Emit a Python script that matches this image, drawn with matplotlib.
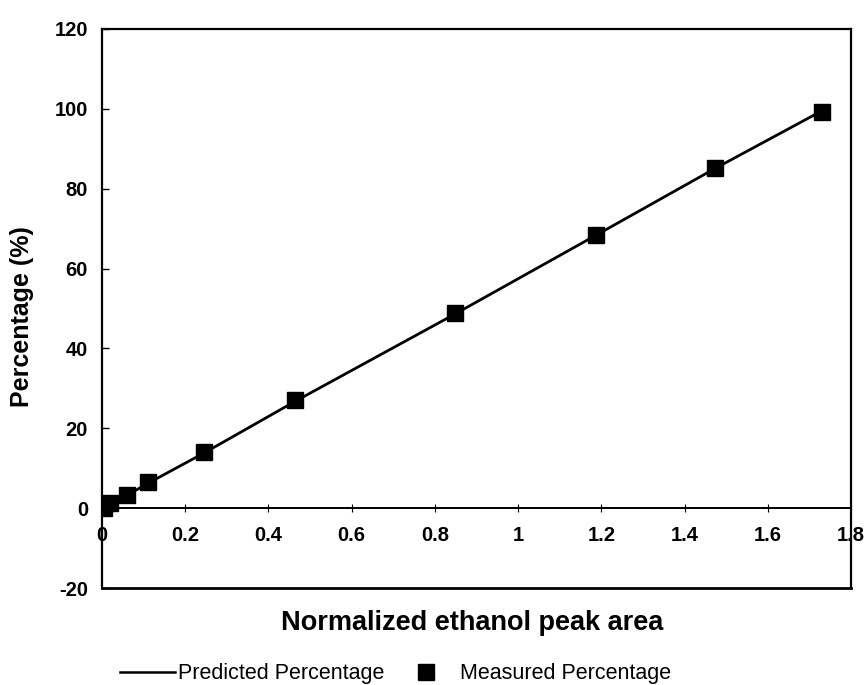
import matplotlib
matplotlib.use("Agg")
import matplotlib.pyplot as plt
from matplotlib.lines import Line2D

# data
area = [0.005, 0.02, 0.06, 0.11, 0.245, 0.465, 0.848, 1.188, 1.472, 1.73]
measured = [0.0, 1.2, 3.3, 6.5, 14.0, 27.0, 48.8, 68.5, 85.2, 99.3]
predicted = [0.2, 1.0, 3.2, 6.2, 13.8, 26.8, 48.6, 68.4, 85.0, 99.5]
xticks = [0, 0.2, 0.4, 0.6, 0.8, 1, 1.2, 1.4, 1.6, 1.8]
yticks = [-20, 0, 20, 40, 60, 80, 100, 120]

plt.rcParams.update({"font.family": ["Liberation Sans", "DejaVu Sans"],
                     "axes.unicode_minus": False})
W, H = 868, 685
fig = plt.figure(figsize=(W / 100, H / 100), dpi=100)
ax = fig.add_axes([102 / W, 1 - 588 / H, 749 / W, 559 / H])

ax.plot(area, predicted, color="black", lw=2.0, zorder=2)
ax.plot(area, measured, ls="none", marker="s", ms=11, color="black", zorder=3)

ax.set_xlim(0, 1.8); ax.set_ylim(-20, 120)
ax.set_xticks(xticks, [f"{t:g}" for t in xticks])
ax.set_yticks(yticks)
ax.spines["bottom"].set_position(("data", 0))
for s in ax.spines.values():
    s.set_linewidth(1.6)
ax.spines["bottom"].set_linewidth(1.4)
# frame bottom edge (the x spine sits at y=0)
ax.add_line(Line2D([0, 1], [0, 0], transform=ax.transAxes, color="black", lw=2.0, clip_on=False))

ax.tick_params(axis="y", direction="in", length=5, width=1, pad=10, labelsize=14.5)
ax.tick_params(axis="x", direction="inout", length=6, width=0.8, pad=10, labelsize=14.5)
for lab in ax.get_xticklabels() + ax.get_yticklabels():
    lab.set_fontweight("bold")

ax.set_ylabel("Percentage (%)", fontsize=18, fontweight="bold")
ax.yaxis.set_label_coords((34 - 102) / 749, (588 - 317) / 559)
fig.text(472 / W, 1 - 623 / H, "Normalized ethanol peak area", ha="center", va="center",
         fontsize=19.5, fontweight="bold")

leg_kw = dict(loc="center left", frameon=False, fontsize=15.5, borderpad=0, borderaxespad=0)
fig.legend([Line2D([], [], color="black", lw=1.8)], ["Predicted Percentage"],
           bbox_to_anchor=(120 / W, 1 - 674 / H), handlelength=2.56, handletextpad=0.14, **leg_kw)
fig.legend([Line2D([], [], ls="none", marker="s", ms=11, color="black")], ["Measured Percentage"],
           bbox_to_anchor=(415 / W, 1 - 674 / H), handlelength=1.0, handletextpad=1.09, **leg_kw)

fig.savefig("out.png", dpi=100)
